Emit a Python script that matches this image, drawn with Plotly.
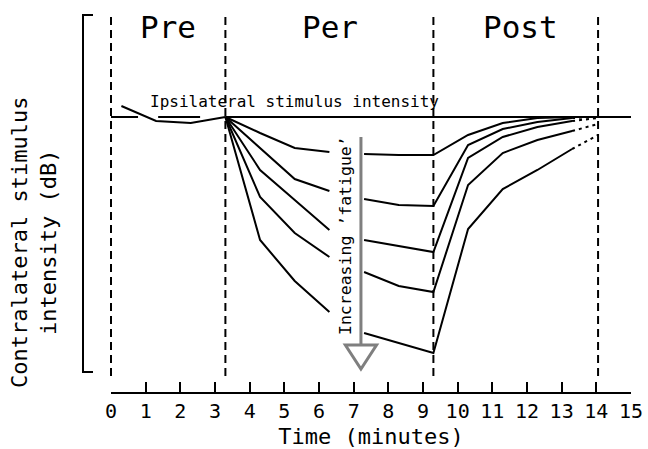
import plotly.graph_objects as go

# ---------------- data ----------------
pre_t = [0.3, 1.3, 2.3, 3.3]
pre_db = [1.1, -0.4, -0.6, 0.0]

per_post_t = [3.3, 4.3, 5.3, 6.3, 7.3, 8.3, 9.3, 10.3, 11.3, 12.3, 13.3]
curve1 = [0.0, -1.6, -3.1, -3.5, -3.7, -3.8, -3.8, -1.8, -0.6, -0.1, 0.0]
curve2 = [0.0, -3.1, -6.2, -7.4, -8.2, -8.8, -8.9, -2.8, -1.2, -0.5, -0.1]
curve3 = [0.0, -5.3, -8.3, -11.3, -12.3, -12.9, -13.5, -4.1, -2.0, -1.0, -0.4]
curve4 = [0.0, -8.0, -11.6, -14.0, -15.5, -16.9, -17.5, -6.8, -3.6, -2.3, -1.4]
curve5 = [0.0, -12.3, -16.4, -19.5, -21.6, -22.6, -23.6, -11.2, -7.2, -5.3, -3.2]
curves = [curve1, curve2, curve3, curve4, curve5]

tail_t = [13.3, 14.05]
tail_end = [0.0, 0.0, -0.1, -0.7, -1.8]

baseline_t = [0, 0.78, None, 1.36, 2.57, None, 3.3, 15.1]
baseline_db = [0, 0, None, 0, 0, None, 0, 0]

phase_bounds = [0, 3.3, 9.3, 14.05]
phase_labels = ["Pre", "Per", "Post"]
phase_centers = [1.64, 6.32, 11.8]

xticks = list(range(0, 16))

X_RANGE = [0, 15]
Y_RANGE = [-27.5, 10.5]

FONT = "DejaVu Sans Mono"
GRAY = "#7f7f7f"


def xpaper(v):
    return (v - X_RANGE[0]) / (X_RANGE[1] - X_RANGE[0])


def ypaper(v):
    return (v - Y_RANGE[0]) / (Y_RANGE[1] - Y_RANGE[0])


fig = go.Figure()

fig.add_trace(go.Scatter(x=baseline_t, y=baseline_db, mode="lines",
                         line=dict(color="black", width=2), connectgaps=False,
                         hoverinfo="skip", showlegend=False))
fig.add_trace(go.Scatter(x=pre_t, y=pre_db, mode="lines",
                         line=dict(color="black", width=2), showlegend=False))

gap_after = per_post_t.index(6.3)
for c, end in zip(curves, tail_end):
    xs = per_post_t[:gap_after + 1] + [None] + per_post_t[gap_after + 1:]
    ys = c[:gap_after + 1] + [None] + c[gap_after + 1:]
    fig.add_trace(go.Scatter(x=xs, y=ys, mode="lines", connectgaps=False,
                             line=dict(color="black", width=2), showlegend=False))
    fig.add_trace(go.Scatter(x=tail_t, y=[c[-1], end], mode="lines",
                             line=dict(color="black", width=2, dash="3px,4px"),
                             showlegend=False))

shapes = []
for b in phase_bounds:
    shapes.append(dict(type="line", xref="paper", yref="paper",
                       x0=xpaper(b), x1=xpaper(b), y0=ypaper(-25.9), y1=ypaper(10.3),
                       line=dict(color="black", width=2, dash="8px,5px"), layer="above"))

# fatigue arrow
shapes.append(dict(type="line", xref="x", yref="y", x0=7.21, x1=7.21, y0=-2.0, y1=-22.8,
                   line=dict(color=GRAY, width=3)))
shapes.append(dict(type="path", xref="x", yref="y",
                   path="M 6.76,-22.8 L 7.66,-22.8 L 7.21,-25.2 Z",
                   line=dict(color=GRAY, width=3), fillcolor="white"))

# y bracket
xl, xr = (83 - 111) / 520, (93 - 111) / 520
yt, yb = (392 - 15) / 380, (392 - 372) / 380
shapes.append(dict(type="path", xref="paper", yref="paper",
                   path=f"M {xr},{yt} L {xl},{yt} L {xl},{yb} L {xr},{yb}",
                   line=dict(color="black", width=2)))

annotations = []
for lab, cx in zip(phase_labels, phase_centers):
    annotations.append(dict(x=cx, y=9.0, xref="x", yref="y", text=lab, showarrow=False,
                            xanchor="center", yanchor="middle",
                            font=dict(family=FONT, size=31, color="black")))
annotations.append(dict(x=5.28, y=1.6, xref="x", yref="y",
                        text="Ipsilateral stimulus intensity", showarrow=False,
                        xanchor="center", yanchor="middle",
                        font=dict(family=FONT, size=16, color="black")))
annotations.append(dict(x=6.75, y=-11.9, xref="x", yref="y",
                        text="Increasing \u2019fatigue\u2019", textangle=-90, showarrow=False,
                        xanchor="center", yanchor="middle",
                        font=dict(family=FONT, size=16.5, color="black")))
annotations.append(dict(x=(34 - 111) / 520, y=(392 - 243) / 380, xref="paper", yref="paper",
                        text="Contralateral stimulus<br>intensity (dB)", textangle=-90,
                        showarrow=False, align="center", xanchor="center", yanchor="middle",
                        font=dict(family=FONT, size=22, color="black")))

fig.update_layout(
    width=648, height=449,
    margin=dict(l=111, r=17, t=12, b=57, autoexpand=False),
    paper_bgcolor="white", plot_bgcolor="white",
    showlegend=False,
    shapes=shapes, annotations=annotations,
    xaxis=dict(range=X_RANGE, tickvals=xticks, ticktext=[str(v) for v in xticks],
               automargin=False,
               showline=True, linecolor="black", linewidth=2,
               ticks="inside", ticklen=10, tickwidth=2, tickcolor="black",
               showgrid=False, zeroline=False,
               tickfont=dict(family=FONT, size=20, color="black"),
               title=dict(text="Time (minutes)", standoff=10,
                          font=dict(family=FONT, size=22, color="black"))),
    yaxis=dict(range=Y_RANGE, visible=False, showgrid=False, zeroline=False,
               automargin=False),
)

fig.write_html("out.html")
